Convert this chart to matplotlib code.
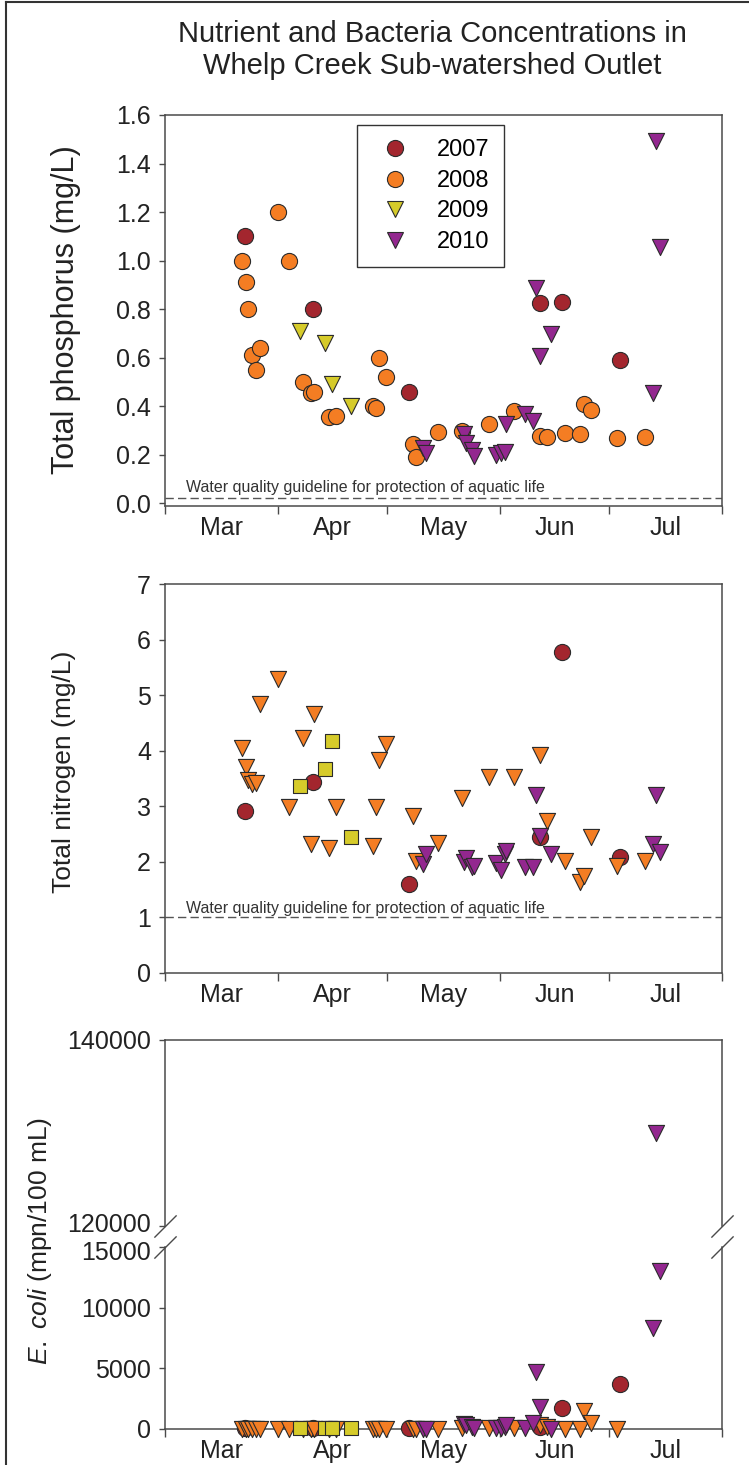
import numpy as np
import matplotlib
matplotlib.use("Agg")
import matplotlib.pyplot as plt
from matplotlib.lines import Line2D
from matplotlib.ticker import FormatStrFormatter
from matplotlib.transforms import ScaledTranslation

plt.rcParams['font.family'] = ['Liberation Sans', 'DejaVu Sans']
plt.rcParams['mathtext.fontset'] = 'custom'
plt.rcParams['mathtext.rm'] = 'Liberation Sans'
plt.rcParams['mathtext.it'] = 'Liberation Sans:italic'

# sample dates as day of year (Mar 1 = 60)
d2007 = [82, 100.7, 126.9, 162.9, 169, 184.9]
d2008 = [81.2, 82.3, 82.8, 84, 85, 86.1, 91.1, 94.1, 98, 100.2, 101, 105.1, 107,
         117, 118, 118.9, 120.8, 128, 129, 135.1, 141.7, 148.9, 156, 162.9, 164.8,
         169.8, 173.9, 175, 177, 184.1, 191.8]
d2009 = [97.2, 104, 106, 111.2]
d2010 = [131, 131.8, 142, 142.8, 144.2, 145, 151, 152.2, 153.3, 153.8, 159, 161,
         162, 162.9, 166, 194, 194.8, 195.9]

# total phosphorus (mg/L)
tp2007 = [1.10, 0.80, 0.458, 0.825, 0.83, 0.59]
tp2008 = [1.0, 0.91, 0.80, 0.61, 0.55, 0.64, 1.2, 1.0, 0.50, 0.455, 0.46, 0.355, 0.36,
          0.40, 0.39, 0.60, 0.52, 0.245, 0.19, 0.293, 0.297, 0.326, 0.38, 0.276, 0.272,
          0.289, 0.285, 0.408, 0.384, 0.268, 0.272]
tp2009 = [0.71, 0.66, 0.49, 0.40]
tp2010 = [0.227, 0.206, 0.285, 0.247, 0.219, 0.194, 0.198, 0.206, 0.21, 0.326, 0.367,
          0.338, 0.887, 0.606, 0.697, 0.454, 1.493, 1.056]

# total nitrogen (mg/L)
tn2007 = [2.91, 3.43, 1.60, 2.45, 5.77, 2.09]
tn2008 = [4.05, 3.7, 3.47, 3.4, 3.42, 4.84, 5.29, 2.99, 4.23, 2.32, 4.66, 2.25, 2.99,
          2.28, 2.99, 3.83, 4.12, 2.82, 2.01, 2.34, 3.15, 3.53, 3.53, 3.92, 2.73,
          2.01, 1.64, 1.74, 2.45, 1.92, 2.01]
tn2009 = [3.36, 3.67, 4.17, 2.45]
tn2010 = [1.96, 2.14, 2.0, 2.07, 1.91, 1.92, 1.98, 1.85, 2.14, 2.19, 1.91, 1.91,
          3.2, 2.46, 2.14, 2.32, 3.2, 2.18]

# E. coli (mpn/100 mL)
ec2007 = [100, 50, 50, 200, 1700, 3700]
ec2008 = [10, 0, 0, 0, 0, 0, 0, 0, 0, 0, 0, 0, 0, 0, 0, 0, 0, 0, 0, 0, 100, 50, 100,
          300, 200, 0, 0, 1500, 500, 0, np.nan]
ec2009 = [80, 60, 70, 60]
ec2010 = [0, 0, 400, 300, 200, 50, 50, 100, 200, 350, 100, 500, 4700, 1800, 0,
          8300, 130000, 13000]

years = ['2007', '2008', '2009', '2010']
month_edges = [60, 91, 121, 152, 182, 213]
month_mid = [75.5, 106, 136.5, 167, 197.5]
month_labels = ['Mar', 'Apr', 'May', 'Jun', 'Jul']

colors = ['#A3262E', '#F47D23', '#D6CB2A', '#93278F']
edge = '#2b2b2b'
axis_color = '#4a4a4a'
sizes = {'o': 135, 'v': 135, 's': 100}

dates = [d2007, d2008, d2009, d2010]
tp = [tp2007, tp2008, tp2009, tp2010]
tn = [tn2007, tn2008, tn2009, tn2010]
ec = [ec2007, ec2008, ec2009, ec2010]
tp_markers = ['o', 'o', 'v', 'v']
tn_markers = ['o', 'v', 's', 'v']

W, H = 749, 1465
fig = plt.figure(figsize=(W / 100, H / 100), dpi=100)


def frac(l, t, r, b):
    return [l / W, 1 - b / H, (r - l) / W, (b - t) / H]


def style(ax, xlabels=True):
    for sp in ax.spines.values():
        sp.set_color(axis_color)
        sp.set_linewidth(1.1)
    ax.set_xlim(month_edges[0], month_edges[-1])
    ax.set_xticks(month_edges)
    ax.set_xticklabels([])
    ax.set_xticks(month_mid, minor=True)
    ax.set_xticklabels(month_labels, minor=True)
    ax.tick_params(axis='x', which='major', direction='out', length=6, width=1,
                   color=axis_color)
    ax.tick_params(axis='x', which='minor', length=0, pad=7, labelsize=18,
                   labelcolor='#222222')
    ax.tick_params(axis='y', direction='out', length=4, width=1, color=axis_color,
                   labelsize=18, pad=6, labelcolor='#222222')
    if not xlabels:
        ax.tick_params(axis='x', which='both', bottom=False, labelbottom=False)


def draw(ax, vals, markers, lo=None, hi=None, clip=True):
    for i in range(4):
        x = np.array(dates[i], dtype=float)
        y = np.array(vals[i], dtype=float)
        keep = ~np.isnan(y)
        if lo is not None:
            keep &= y >= lo
        if hi is not None:
            keep &= y <= hi
        ax.scatter(x[keep], y[keep], marker=markers[i], s=sizes[markers[i]],
                   c=colors[i], edgecolors=edge, linewidths=0.8, zorder=3,
                   clip_on=clip)


guide_text = 'Water quality guideline for protection of aquatic life'

# --- total phosphorus
ax_tp = fig.add_axes(frac(165, 115, 722, 506))
style(ax_tp)
draw(ax_tp, tp, tp_markers)
ax_tp.set_ylim(-0.012, 1.6)
ax_tp.set_yticks(np.arange(0, 1.61, 0.2))
ax_tp.yaxis.set_major_formatter(FormatStrFormatter('%.1f'))
ax_tp.axhline(0.02, color='#555555', lw=1, ls=(0, (6, 3)), zorder=1)
ax_tp.text(0.038, 0.045, guide_text, transform=ax_tp.get_yaxis_transform(),
           fontsize=11.5, color='#333333', va='baseline')
handles = [Line2D([], [], ls='none', marker=tp_markers[i], markersize=11.6,
                  markerfacecolor=colors[i], markeredgecolor=edge,
                  markeredgewidth=0.8) for i in range(4)]
leg = ax_tp.legend(handles, years, loc='upper left', bbox_to_anchor=(0.345, 0.974),
                   borderaxespad=0, fontsize=17, fancybox=False, framealpha=1,
                   edgecolor='#333333', borderpad=0.6, handlelength=2.0,
                   handletextpad=0.77, labelspacing=0.36)
leg.get_frame().set_linewidth(1)

# --- total nitrogen
ax_tn = fig.add_axes(frac(165, 584, 722, 973))
style(ax_tn)
draw(ax_tn, tn, tn_markers)
ax_tn.set_ylim(0, 7)
ax_tn.set_yticks(range(0, 8))
ax_tn.axhline(1.0, color='#555555', lw=1, ls=(0, (6, 3)), zorder=1)
ax_tn.text(0.038, 1.08, guide_text, transform=ax_tn.get_yaxis_transform(),
           fontsize=11.5, color='#333333', va='baseline')

# --- E. coli, broken axis
ax_eh = fig.add_axes(frac(165, 1040, 722, 1226))
ax_el = fig.add_axes(frac(165, 1247, 722, 1429))
style(ax_eh, xlabels=False)
style(ax_el)
ax_eh.spines['bottom'].set_visible(False)
ax_el.spines['top'].set_visible(False)
draw(ax_eh, ec, tn_markers, lo=120000)
draw(ax_el, ec, tn_markers, hi=15000, clip=False)
ax_eh.set_ylim(120000, 140000)
ax_eh.set_yticks([120000, 140000])
ax_el.set_ylim(0, 15000)
ax_el.set_yticks([0, 5000, 10000, 15000])

# nudge the two labels at the break apart a little
lab = ax_eh.yaxis.get_major_ticks()[0].label1
lab.set_transform(lab.get_transform() + ScaledTranslation(0, 2.2 / 72, fig.dpi_scale_trans))
lab = ax_el.yaxis.get_major_ticks()[3].label1
lab.set_transform(lab.get_transform() + ScaledTranslation(0, -2.2 / 72, fig.dpi_scale_trans))

brk = dict(marker=[(-1, -1), (1, 1)], markersize=16, ls='none', color=axis_color,
           mec=axis_color, mew=1, clip_on=False)
ax_eh.plot([0, 1], [0, 0], transform=ax_eh.transAxes, **brk)
ax_el.plot([0, 1], [1, 1], transform=ax_el.transAxes, **brk)

# labels
fig.text(432 / W, 1 - 50 / H,
         'Nutrient and Bacteria Concentrations in\nWhelp Creek Sub-watershed Outlet',
         ha='center', va='center', fontsize=21, linespacing=1.15, color='#222222')
fig.text(66 / W, 1 - 310 / H, 'Total phosphorus (mg/L)', rotation=90,
         ha='center', va='center', fontsize=22, color='#222222')
fig.text(64 / W, 1 - 772 / H, 'Total nitrogen (mg/L)', rotation=90,
         ha='center', va='center', fontsize=19, color='#222222')
fig.text(40 / W, 1 - 1241 / H, r'$\mathit{E.\ coli}$ (mpn/100 mL)', rotation=90,
         ha='center', va='center', fontsize=19, color='#222222')

# outer frame (left and top edges)
fig.add_artist(Line2D([6 / W, 6 / W], [0, 1 - 2 / H], transform=fig.transFigure,
                      color='#333333', lw=1.5))
fig.add_artist(Line2D([6 / W, 1], [1 - 2 / H, 1 - 2 / H], transform=fig.transFigure,
                      color='#333333', lw=1.5))

fig.savefig('out.png', dpi=100)
